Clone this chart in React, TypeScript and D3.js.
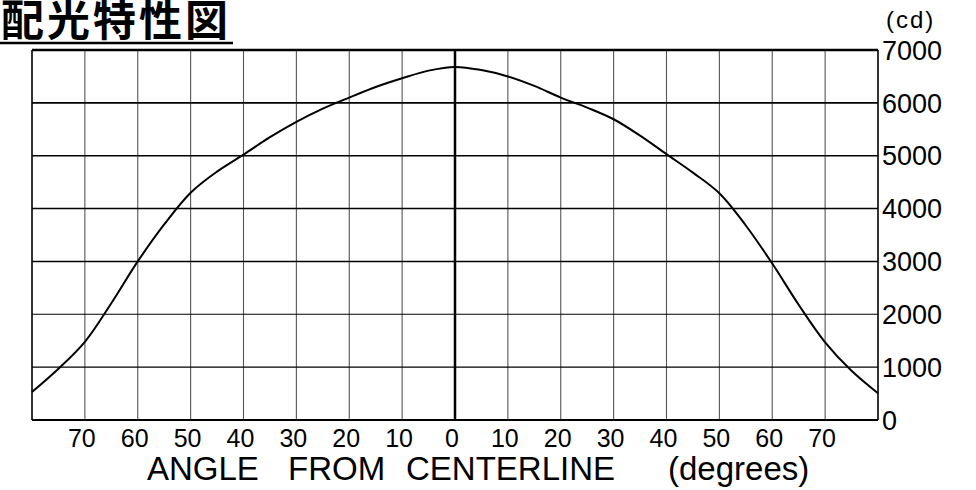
import React from "react";
import * as d3 from "d3";

// angle (degrees) vs luminous intensity (cd)
const angles = [-80, -75, -70, -65, -60, -55, -50, -45, -40, -35, -30, -25, -20, -15, -10, -5, 0,
  5, 10, 15, 20, 25, 30, 35, 40, 45, 50, 55, 60, 65, 70, 75, 80];
const intensity = [530, 970, 1480, 2210, 3000, 3700, 4300, 4700, 5020, 5350, 5640, 5890, 6100, 6300, 6465, 6610, 6680,
  6620, 6500, 6320, 6100, 5910, 5690, 5380, 5030, 4680, 4290, 3680, 2960, 2180, 1470, 930, 505];

const xGrid = [-70, -60, -50, -40, -30, -20, -10, 10, 20, 30, 40, 50, 60, 70];
const xTickLabels = ["70", "60", "50", "40", "30", "20", "10", "0", "10", "20", "30", "40", "50", "60", "70"];
const xTickValues = [-70, -60, -50, -40, -30, -20, -10, 0, 10, 20, 30, 40, 50, 60, 70];
const yTicks = [0, 1000, 2000, 3000, 4000, 5000, 6000, 7000];

const W = 976;
const H = 490;
const margin = { top: 50, right: 98, bottom: 70, left: 32 };

export default function App() {
  const x = d3.scaleLinear().domain([-80, 80]).range([margin.left, W - margin.right]);
  const y = d3.scaleLinear().domain([0, 7000]).range([H - margin.bottom, margin.top]);

  const data = angles.map((a, i) => [a, intensity[i]] as [number, number]);
  const line = d3
    .line<[number, number]>()
    .x((d) => x(d[0]))
    .y((d) => y(d[1]))
    .curve(d3.curveCatmullRom.alpha(0.5));

  const sans = "'Liberation Sans', Arial, sans-serif";

  return (
    <svg
      width={W}
      height={H}
      style={{ position: "absolute", left: 0, top: 0, background: "#fff" }}
    >
      {/* title */}
      <text
        x={1}
        y={36}
        fontFamily="'Noto Sans CJK JP', sans-serif"
        fontWeight={700}
        fontSize={43}
        letterSpacing={3}
        fill="#000"
      >
        配光特性図
      </text>
      <line x1={0} x2={233} y1={43} y2={43} stroke="#000" strokeWidth={2.5} />

      {/* vertical grid */}
      {xGrid.map((a) => (
        <line
          key={"vx" + a}
          x1={x(a)}
          x2={x(a)}
          y1={y(7000)}
          y2={y(0)}
          stroke="#555"
          strokeWidth={1.1}
        />
      ))}

      {/* horizontal grid */}
      {yTicks.slice(1, -1).map((v) => (
        <line
          key={"hy" + v}
          x1={x(-80)}
          x2={x(80)}
          y1={y(v)}
          y2={y(v)}
          stroke="#000"
          strokeWidth={v >= 3000 ? 1.6 : 1.1}
        />
      ))}

      {/* centre line */}
      <line x1={x(0)} x2={x(0)} y1={y(7000)} y2={y(0)} stroke="#000" strokeWidth={2.5} />

      {/* frame */}
      <line x1={x(-80)} x2={x(80)} y1={y(7000)} y2={y(7000)} stroke="#000" strokeWidth={2.5} />
      <line x1={x(-80)} x2={x(80)} y1={y(0)} y2={y(0)} stroke="#000" strokeWidth={2} />
      <line x1={x(-80)} x2={x(-80)} y1={y(7000)} y2={y(0)} stroke="#000" strokeWidth={1.6} />
      <line x1={x(80)} x2={x(80)} y1={y(7000)} y2={y(0)} stroke="#000" strokeWidth={1.6} />

      {/* curve */}
      <path d={line(data) || ""} fill="none" stroke="#000" strokeWidth={2} />

      {/* y tick labels */}
      {yTicks.map((v) => (
        <text
          key={"yl" + v}
          x={x(80) + 4}
          y={y(v)}
          dy="0.36em"
          fontFamily={sans}
          fontSize={27}
          fill="#000"
        >
          {v}
        </text>
      ))}
      <text x={x(80) + 8} y={28} fontFamily={sans} fontSize={24} letterSpacing={2} fill="#000">
        (cd)
      </text>

      {/* x tick labels */}
      {xTickValues.map((a, i) => (
        <text
          key={"xl" + i}
          x={x(a) - 3}
          y={447}
          textAnchor="middle"
          fontFamily={sans}
          fontSize={25}
          fill="#000"
        >
          {xTickLabels[i]}
        </text>
      ))}

      {/* x axis title */}
      <text y={480} fontFamily={sans} fontSize={33} fill="#000">
        <tspan x={147}>ANGLE</tspan>
        <tspan x={288}>FROM</tspan>
        <tspan x={406}>CENTERLINE</tspan>
        <tspan x={668}>(degrees)</tspan>
      </text>
    </svg>
  );
}
